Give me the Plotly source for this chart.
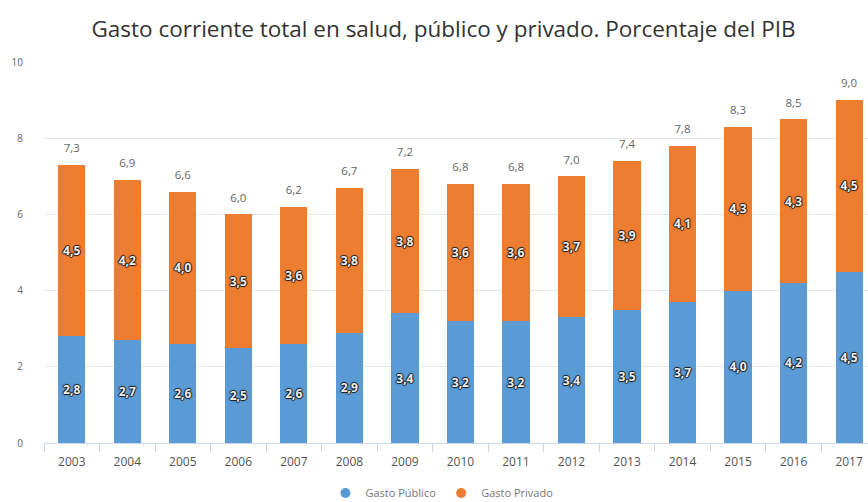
import plotly.graph_objects as go

years = ["2003", "2004", "2005", "2006", "2007", "2008", "2009", "2010",
         "2011", "2012", "2013", "2014", "2015", "2016", "2017"]
gasto_publico = [2.8, 2.7, 2.6, 2.5, 2.6, 2.9, 3.4, 3.2, 3.2, 3.3, 3.5, 3.7, 4.0, 4.2, 4.5]
gasto_privado = [4.5, 4.2, 4.0, 3.5, 3.6, 3.8, 3.8, 3.6, 3.6, 3.7, 3.9, 4.1, 4.3, 4.3, 4.5]
gasto_total = [7.3, 6.9, 6.6, 6.0, 6.2, 6.7, 7.2, 6.8, 6.8, 7.0, 7.4, 7.8, 8.3, 8.5, 9.0]
publico_labels = ["2,8", "2,7", "2,6", "2,5", "2,6", "2,9", "3,4", "3,2",
                  "3,2", "3,4", "3,5", "3,7", "4,0", "4,2", "4,5"]
privado_labels = ["4,5", "4,2", "4,0", "3,5", "3,6", "3,8", "3,8", "3,6",
                  "3,6", "3,7", "3,9", "4,1", "4,3", "4,3", "4,5"]
total_labels = ["7,3", "6,9", "6,6", "6,0", "6,2", "6,7", "7,2", "6,8",
                "6,8", "7,0", "7,4", "7,8", "8,3", "8,5", "9,0"]
y_ticks = [0, 2, 4, 6, 8, 10]

BLUE = "#5b9bd5"
ORANGE = "#ed7d31"
FONT = "Open Sans"
outline = ("1px 0 1px #1a1a1a, -1px 0 1px #1a1a1a, 0 1px 1px #1a1a1a, 0 -1px 1px #1a1a1a")

inside_font = dict(family=FONT, size=12, color="#eeeeee", weight="bold", shadow=outline)

fig = go.Figure()
fig.add_trace(go.Bar(
    x=years, y=gasto_publico, name="Gasto Público", marker_color=BLUE,
    marker_line_width=0, text=publico_labels, textposition="inside",
    insidetextanchor="middle", textangle=0, textfont=inside_font,
    showlegend=False, hoverinfo="skip"))
fig.add_trace(go.Bar(
    x=years, y=gasto_privado, name="Gasto Privado", marker_color=ORANGE,
    marker_line_width=0, text=privado_labels, textposition="inside",
    insidetextanchor="middle", textangle=0, textfont=inside_font,
    showlegend=False, hoverinfo="skip"))
fig.add_trace(go.Scatter(
    x=years, y=gasto_total, mode="markers+text", text=total_labels,
    textposition="top center", cliponaxis=False,
    marker=dict(size=14, color="rgba(0,0,0,0)"),
    textfont=dict(family=FONT, size=11.5, color="#666666"),
    showlegend=False, hoverinfo="skip"))
# legend entries with circle markers
fig.add_trace(go.Scatter(x=[None], y=[None], mode="markers", name="Gasto Público",
                         marker=dict(color=BLUE, size=10, symbol="circle")))
fig.add_trace(go.Scatter(x=[None], y=[None], mode="markers", name="Gasto Privado",
                         marker=dict(color=ORANGE, size=10, symbol="circle")))

fig.update_layout(
    width=868, height=502,
    barmode="stack", bargap=0.51,
    separators=",.",
    plot_bgcolor="white", paper_bgcolor="white",
    margin=dict(l=44, r=0, t=62, b=59, autoexpand=False),
    title=dict(text="Gasto corriente total en salud, público y privado. Porcentaje del PIB",
               x=0.511, xanchor="center", y=0.941, yanchor="middle",
               font=dict(family=FONT, size=22.5, color="#333333")),
    legend=dict(orientation="h", x=0.483, xanchor="center", y=-0.131, yanchor="middle",
                traceorder="normal",
                font=dict(family=FONT, size=11, color="#777777"),
                itemwidth=30, tracegroupgap=0),
    xaxis=dict(type="category", range=[-0.5, 14.34], showgrid=False, automargin=False,
               showline=True, linecolor="#ccd6eb", linewidth=1,
               ticks="outside", tickson="boundaries", ticklen=8, tickcolor="#ccd6eb",
               ticklabelstandoff=8,
               tickfont=dict(family=FONT, size=12, color="#555555"), fixedrange=True),
    yaxis=dict(range=[0, 10], tickvals=y_ticks, showgrid=True, gridcolor="#e6e6e6",
               zeroline=False, showline=False, ticklabelstandoff=20, automargin=False,
               tickfont=dict(family=FONT, size=10, color="#666666")),
)

fig.write_html("out.html", config={"displayModeBar": False},
               post_script="document.body.style.margin='0';document.body.style.overflow='hidden';")
